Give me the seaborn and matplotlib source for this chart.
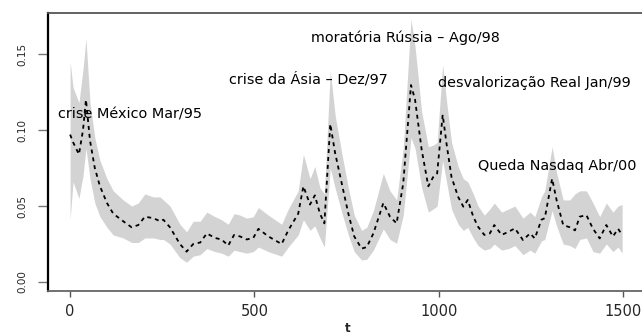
import matplotlib
matplotlib.use("Agg")
import matplotlib.pyplot as plt
import seaborn as sns
import pandas as pd

t = [0, 8, 24, 35, 43, 54, 67, 81, 100, 117, 144, 167, 185, 203, 226, 244, 253, 271,
     298, 316, 334, 353, 371, 393, 411, 429, 445, 461, 479, 497, 511, 538, 574, 592,
     619, 633, 651, 664, 678, 690, 706, 719, 737, 755, 771, 791, 805, 823, 850, 868,
     886, 904, 925, 936, 954, 972, 985, 996, 1011, 1022, 1035, 1053, 1067, 1079, 1094,
     1107, 1124, 1139, 1151, 1171, 1189, 1207, 1229, 1248, 1261, 1279, 1288, 1308, 1320,
     1338, 1356, 1370, 1383, 1401, 1419, 1437, 1455, 1473, 1487, 1498]

vol = [0.097, 0.092, 0.084, 0.100, 0.120, 0.093, 0.075, 0.063, 0.052, 0.045, 0.040, 0.036,
       0.0375, 0.043, 0.042, 0.040, 0.041, 0.036, 0.025, 0.020, 0.025, 0.026, 0.032, 0.029,
       0.028, 0.024, 0.031, 0.030, 0.028, 0.029, 0.035, 0.030, 0.025, 0.034, 0.045, 0.063,
       0.051, 0.057, 0.045, 0.0386, 0.104, 0.085, 0.065, 0.045, 0.030, 0.022, 0.023, 0.032,
       0.052, 0.043, 0.0386, 0.065, 0.1296, 0.120, 0.087, 0.063, 0.069, 0.0715, 0.110, 0.090,
       0.069, 0.056, 0.0496, 0.054, 0.043, 0.0364, 0.031, 0.032, 0.0375, 0.031, 0.033, 0.0353,
       0.0276, 0.032, 0.0287, 0.041, 0.042, 0.068, 0.054, 0.0375, 0.036, 0.034, 0.043, 0.044,
       0.035, 0.0287, 0.0375, 0.030, 0.035, 0.031]

lower = [0.041, 0.066, 0.055, 0.070, 0.088, 0.068, 0.052, 0.043, 0.036, 0.031, 0.029, 0.026,
         0.026, 0.029, 0.029, 0.028, 0.028, 0.025, 0.016, 0.013, 0.017, 0.018, 0.022, 0.020,
         0.019, 0.017, 0.021, 0.020, 0.019, 0.020, 0.023, 0.020, 0.017, 0.023, 0.031, 0.041,
         0.034, 0.037, 0.029, 0.023, 0.075, 0.062, 0.046, 0.031, 0.020, 0.0145, 0.015, 0.021,
         0.035, 0.028, 0.0255, 0.044, 0.095, 0.088, 0.062, 0.046, 0.048, 0.050, 0.080, 0.065,
         0.048, 0.038, 0.034, 0.036, 0.029, 0.024, 0.021, 0.022, 0.025, 0.021, 0.022, 0.024,
         0.018, 0.021, 0.019, 0.027, 0.028, 0.047, 0.037, 0.025, 0.024, 0.022, 0.028, 0.029,
         0.020, 0.019, 0.025, 0.020, 0.023, 0.019]

upper = [0.145, 0.128, 0.118, 0.140, 0.160, 0.118, 0.095, 0.080, 0.068, 0.060, 0.054, 0.050,
         0.052, 0.058, 0.056, 0.056, 0.054, 0.050, 0.038, 0.033, 0.040, 0.040, 0.046, 0.043,
         0.041, 0.038, 0.045, 0.044, 0.042, 0.043, 0.049, 0.044, 0.038, 0.048, 0.060, 0.084,
         0.068, 0.076, 0.062, 0.058, 0.139, 0.110, 0.085, 0.062, 0.044, 0.034, 0.036, 0.047,
         0.0715, 0.060, 0.054, 0.088, 0.173, 0.155, 0.112, 0.089, 0.090, 0.092, 0.143, 0.118,
         0.092, 0.076, 0.068, 0.066, 0.058, 0.050, 0.044, 0.048, 0.052, 0.046, 0.048, 0.050,
         0.042, 0.046, 0.043, 0.056, 0.060, 0.089, 0.072, 0.054, 0.054, 0.058, 0.060, 0.060,
         0.052, 0.043, 0.052, 0.046, 0.050, 0.051]

events = ["crise México Mar/95", "crise da Ásia – Dez/97", "moratória Rússia – Ago/98",
          "desvalorização Real Jan/99", "Queda Nasdaq Abr/00"]
event_t = [163, 648, 909, 1261, 1322]
event_v = [0.110, 0.1336, 0.161, 0.1307, 0.0765]

xticks = [0, 500, 1000, 1500]
yticks = [0.00, 0.05, 0.10, 0.15]
ytick_labels = ["0.00", "0.05", "0.10", "0.15"]

df = pd.DataFrame({"t": t, "vol": vol, "lower": lower, "upper": upper})

sns.set_style("white")
plt.rcParams["font.family"] = ["DejaVu Sans"]

fig = plt.figure(figsize=(6.42, 3.34), dpi=100)
ax = fig.add_axes([48 / 642, 43 / 334, 597 / 642, 278 / 334])

ax.fill_between(df["t"], df["lower"], df["upper"], color="#d3d3d3", linewidth=0)
sns.lineplot(data=df, x="t", y="vol", ax=ax, color="black", linewidth=1.3)
ax.lines[-1].set_linestyle((0, (2.2, 2.2)))

for s, et, ev in zip(events, event_t, event_v):
    ax.text(et, ev, s, ha="center", va="center", fontsize=10.4, color="black")

ax.set_xlim(-60, 1560)
ax.set_ylim(-0.0059, 0.177)
ax.set_xticks(xticks)
ax.set_xticklabels([str(v) for v in xticks], fontsize=10.5)
ax.set_yticks(yticks)
ax.set_yticklabels(ytick_labels, fontsize=7.5, rotation=90, va="center")
ax.tick_params(axis="x", length=4.3, width=1.0, color="#555555", pad=5.0, direction="out")
ax.tick_params(axis="y", length=7.2, width=1.0, color="#777777", pad=8.0, direction="out")
ax.tick_params(bottom=True, left=True)

ax.set_xlabel("t", fontsize=8.5, fontweight="bold")
ax.set_ylabel("")
ax.xaxis.set_label_coords((348 - 48) / 597, -38 / 278)
ax.xaxis.label.set_va("center")

ax.spines["left"].set_color("black")
ax.spines["left"].set_linewidth(1.6)
ax.spines["bottom"].set_color("#666666")
ax.spines["bottom"].set_linewidth(1.3)
ax.spines["top"].set_color("#555555")
ax.spines["top"].set_linewidth(1.3)
ax.spines["right"].set_visible(False)

fig.savefig("out.png", dpi=100)
